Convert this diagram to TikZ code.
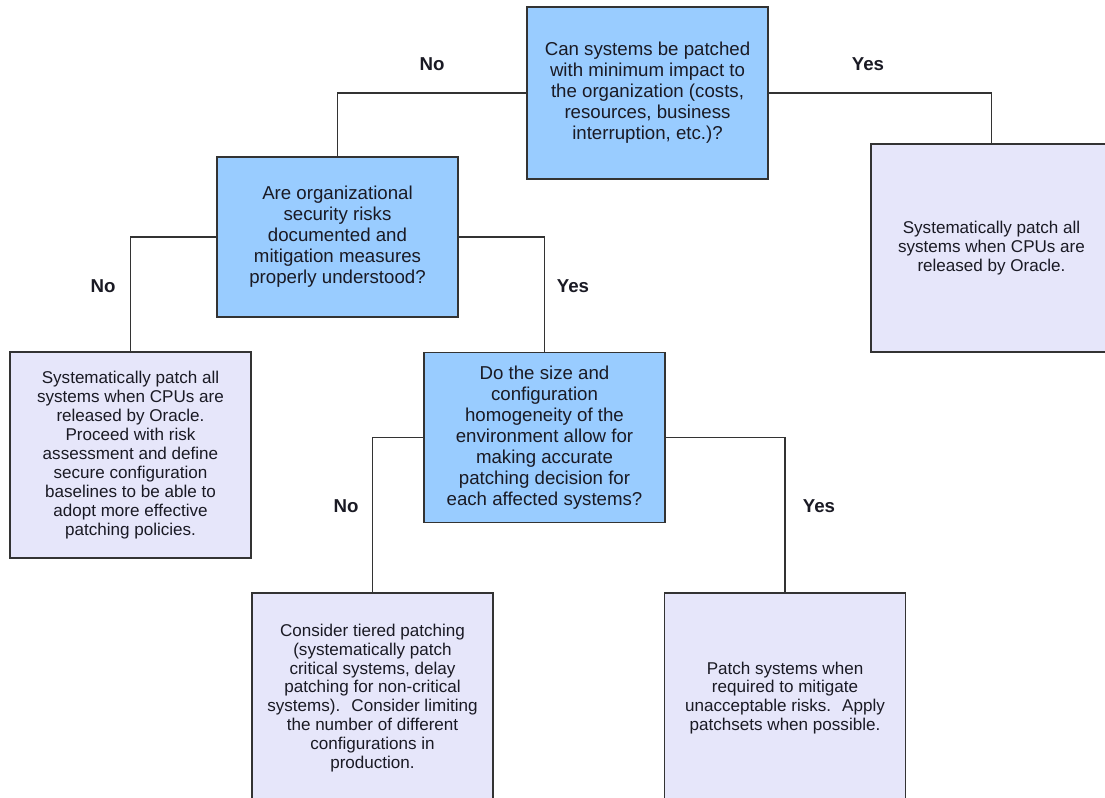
\documentclass[tikz,border=0pt]{standalone}
\usepackage{fontspec}
\setmainfont{Liberation Sans}
\usepackage{tikz}
\usetikzlibrary{positioning}
\definecolor{QBlue}{HTML}{99CCFF}
\definecolor{LeafLav}{HTML}{E6E6FA}
\definecolor{EdgeGray}{HTML}{333333}
\definecolor{TextDark}{HTML}{1A1A24}

\begin{document}
\begin{tikzpicture}[
  x=0.75pt, y=-0.75pt,
  question/.style={draw=EdgeGray, line width=1pt, fill=QBlue, align=center,
                   minimum width=180.75pt, minimum height=#1, inner sep=0pt,
                   text=TextDark, font=\fontsize{14}{15.8}\selectfont},
  leaf/.style={draw=EdgeGray, line width=1pt, fill=LeafLav, align=center,
               minimum width=180.75pt, minimum height=#1, inner sep=0pt,
               text=TextDark, font=\fontsize{12.8}{14.2}\selectfont},
  conn/.style={draw=EdgeGray, line width=1pt},
  ans/.style={font=\fontsize{14}{16}\selectfont\bfseries, text=TextDark}
]

% Canvas
\fill[white] (0,0) rectangle (1105,797);
\path[use as bounding box] (0,0) rectangle (1105,797);
\clip (0,0) rectangle (1105,797);

% Questions
\node[question=129pt] (qcost) at (647.5,93)
  {Can systems be patched\\ with minimum impact to\\ the organization (costs,\\
   resources, business\\ interruption, etc.)?};
\node[question=120pt] (qrisk) at (337.5,237)
  {Are organizational\\ security risks\\ documented and\\
   mitigation measures\\ properly understood?};
\node[question=127.5pt] (qsize) at (544.5,437.5)
  {Do the size and\\ configuration\\ homogeneity of the\\ environment allow for\\
   making accurate\\ patching decision for\\ each affected systems?};

% Outcomes
\node[leaf=156pt] (allyes) at (991.5,248)
  {Systematically patch all\\ systems when CPUs are\\ released by Oracle.};
\node[leaf=154.5pt] (allno) at (130.5,455)
  {Systematically patch all\\ systems when CPUs are\\ released by Oracle.\\
   Proceed with risk\\ assessment and define\\ secure configuration\\
   baselines to be able to\\ adopt more effective\\ patching policies.};
\node[leaf=157.5pt] (tiered) at (372.5,698)
  {Consider tiered patching\\ (systematically patch\\ critical systems, delay\\
   patching for non-critical\\ systems).~ Consider limiting\\
   the number of different\\ configurations in\\ production.};
\node[leaf=157.5pt] (ondemand) at (785,698)
  {Patch systems when\\ required to mitigate\\ unacceptable risks.~ Apply\\
   patchsets when possible.};

% Connectors
\draw[conn] (qcost.west) -| (qrisk.north);
\draw[conn] (qcost.east) -| (allyes.north);
\draw[conn] (qrisk.west) -| (allno.north);
\draw[conn] (qrisk.east) -| (qsize.north);
\draw[conn] (qsize.west) -| (tiered.north);
\draw[conn] (qsize.east) -| (ondemand.north);

% Answers
\node[ans] (costno) at (432,64) {No};
\node[ans] (costyes) at (868,64) {Yes};
\node[ans] (riskno) at (103,286) {No};
\node[ans] (riskyes) at (573,286) {Yes};
\node[ans] (sizeno) at (346,506) {No};
\node[ans] (sizeyes) at (819,506) {Yes};

\end{tikzpicture}
\end{document}
